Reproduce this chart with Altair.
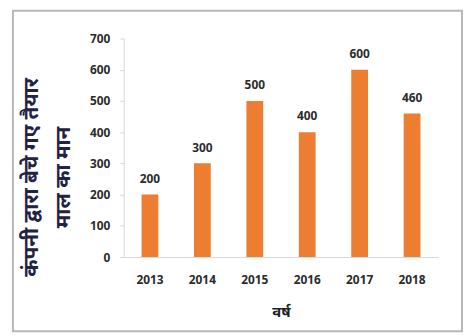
import altair as alt
import pandas as pd

years = ["2013", "2014", "2015", "2016", "2017", "2018"]
values = [200, 300, 500, 400, 600, 460]
y_title = ["कंपनी द्वारा बेचे गए तैयार", "माल का मान"]
x_title = "वर्ष"

df = pd.DataFrame({"year": years, "value": values})
frame_df = pd.DataFrame({"k": [0]})

FONT = "Noto Sans"

base = alt.Chart(df).encode(
    x=alt.X("year:N", sort=years, title=x_title,
            scale=alt.Scale(paddingInner=0.68, paddingOuter=0.34),
            axis=alt.Axis(labelAngle=0, ticks=False, domainColor="#d9d9d9",
                          labelPadding=18, labelFontSize=12, labelColor="#2b2b2b",
                          labelFontWeight="bold",
                          labelFont=FONT, titleFont=FONT, titleFontSize=15,
                          titleColor="#222222", titleFontWeight="bold",
                          titlePadding=19)),
    y=alt.Y("value:Q", title=y_title,
            scale=alt.Scale(domain=[0, 700]),
            axis=alt.Axis(values=list(range(0, 701, 100)), grid=False,
                          domainColor="#d9d9d9", tickColor="#d9d9d9", tickSize=4,
                          labelPadding=10, labelFontSize=12, labelColor="#2b2b2b",
                          labelFontWeight="bold",
                          labelFont=FONT, titleFont=FONT, titleFontSize=21,
                          titleColor="#222244", titleFontWeight="bold",
                          titleAngle=-90, titleX=-93, titleY=140,
                          titleAlign="center", titleBaseline="middle",
                          titleLineHeight=32)),
)

bars = base.mark_bar(color="#ED7D31")
labels = base.mark_text(baseline="bottom", dy=-9, fontSize=12, fontWeight="bold",
                        color="#2b2b2b", font=FONT).encode(text="value:Q")

frame = alt.Chart(frame_df).mark_rect(fill=None, stroke="#b8b8b8", strokeWidth=2).encode(
    x=alt.value(-112), x2=alt.value(342), y=alt.value(-28), y2=alt.value(296)
)

chart = alt.layer(bars, labels, frame).properties(
    width=318, height=221,
    padding={"left": 117, "top": 29, "right": 26, "bottom": 77},
    autosize=alt.AutoSizeParams(type="none"),
    background="white",
).configure_view(stroke=None)

chart.save("out.html", embed_options={"renderer": "svg", "actions": False})
